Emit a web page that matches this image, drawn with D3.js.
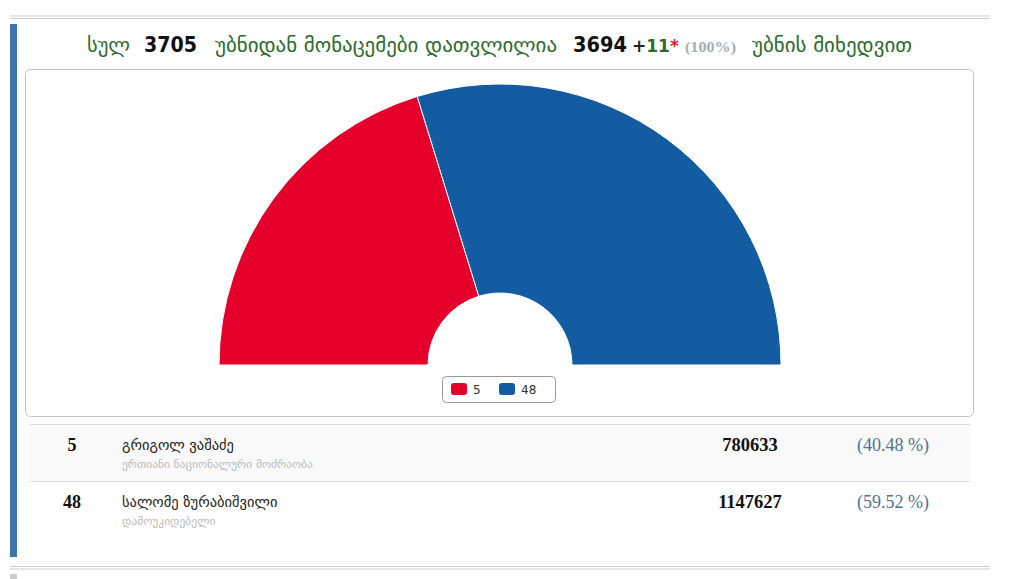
<!DOCTYPE html>
<html><head><meta charset="utf-8">
<script src="https://cdn.jsdelivr.net/npm/d3@7"></script>
<style>
html,body{margin:0;padding:0;background:#fff;}
svg{display:block;}
</style></head>
<body>
<svg id="c" width="1019" height="579"></svg>
<script>
// ---- data ----
const candidateNumbers = ["5", "48"];
const candidateNames = ["გრიგოლ ვაშაძე", "სალომე ზურაბიშვილი"];
const candidateParties = ["ერთიანი ნაციონალური მოძრაობა", "დამოუკიდებელი"];
const votes = [780633, 1147627];
const percents = ["40.48", "59.52"];
const colors = ["#e4002b", "#135ca2"];
const totalPrecincts = "3705";
const countedPrecincts = "3694";
const extraPrecincts = "11";
const countedShare = "(100%)";
const titleParts = ["სულ", "უბნიდან მონაცემები დათვლილია", "უბნის მიხედვით"];

const svg = d3.select("#c");
const green = "#2b6b2e";
const geo = "'DejaVu Sans', sans-serif";
const serif = "'Liberation Serif', 'DejaVu Serif', serif";

// frame lines
svg.append("rect").attr("x",10).attr("y",15.5).attr("width",980).attr("height",1).attr("fill","#ccc");
svg.append("rect").attr("x",10).attr("y",18).attr("width",980).attr("height",1).attr("fill","#ccc");
svg.append("rect").attr("x",10).attr("y",566).attr("width",980).attr("height",1).attr("fill","#ccc");
svg.append("rect").attr("x",10).attr("y",568.5).attr("width",980).attr("height",1).attr("fill","#ccc");
svg.append("rect").attr("x",10).attr("y",24).attr("width",7).attr("height",533).attr("fill","#3a77a8");
svg.append("rect").attr("x",10).attr("y",574).attr("width",7).attr("height",5).attr("fill","#ccc");

// title
const ty = 52;
const t = svg.append("g");
function seg(x, txt, opts, x1){
  const e = t.append("text").attr("x",x).attr("y",ty).text(txt)
    .attr("font-family",opts.ff||geo).attr("font-size",opts.fs||20)
    .attr("font-weight",opts.fw||"normal").attr("fill",opts.c||green);
  if (x1) e.attr("textLength", x1-x).attr("lengthAdjust","spacingAndGlyphs");
  return e;
}
seg(87, titleParts[0], {}, 130);
seg(144, totalPrecincts, {fw:"bold", c:"#111", fs:21}, 197);
seg(215, titleParts[1], {}, 557);
seg(573, countedPrecincts, {fw:"bold", c:"#111", fs:21}, 627);
const plus = t.append("text").attr("x",632).attr("y",ty).attr("font-family",geo)
  .attr("font-weight","bold").attr("font-size",17);
plus.append("tspan").attr("fill","#222").text("+");
plus.append("tspan").attr("fill",green).text(extraPrecincts);
plus.append("tspan").attr("fill","#e0202b").text("*");
seg(685, countedShare, {fw:"bold", c:"#a6adb6", fs:14, ff:serif}, 736);
seg(752, titleParts[2], {}, 912);

// chart box
svg.append("rect").attr("x",25.5).attr("y",69.5).attr("width",948).attr("height",347)
  .attr("rx",5).attr("fill","#fff").attr("stroke","#c4c4c4");

// semi donut
const cx = 500, cy = 365;
const pie = d3.pie().value(d=>d).sort(null).startAngle(-Math.PI/2).endAngle(Math.PI/2);
const arc = d3.arc().innerRadius(72).outerRadius(281);
svg.append("g").attr("transform",`translate(${cx},${cy})`)
  .selectAll("path").data(pie(votes)).join("path")
  .attr("d",arc).attr("fill",(d,i)=>colors[i]).attr("stroke","#fff").attr("stroke-width",1);

// legend
const lg = svg.append("g");
lg.append("rect").attr("x",442.5).attr("y",376.5).attr("width",113).attr("height",26).attr("rx",4)
  .attr("fill","#fff").attr("stroke","#999");
const legX = d3.scalePoint().domain(candidateNumbers).range([451,499]);
candidateNumbers.forEach((n,i)=>{
  lg.append("rect").attr("x",legX(n)).attr("y",383).attr("width",16).attr("height",12).attr("rx",3).attr("fill",colors[i]);
  lg.append("text").attr("x",legX(n)+22).attr("y",394).text(n)
    .attr("font-family","'DejaVu Sans', sans-serif").attr("font-size",12).attr("fill","#333");
});

// table
const rowY = d3.scaleBand().domain(candidateNumbers).range([424,538]);
svg.append("rect").attr("x",30).attr("y",424).attr("width",940).attr("height",1).attr("fill","#ddd");
candidateNumbers.forEach((n,i)=>{
  const y0 = rowY(n), h = rowY.bandwidth();
  if(i%2===0) svg.append("rect").attr("x",30).attr("y",y0+1).attr("width",940).attr("height",h-1).attr("fill","#f9f9f9");
  if(i<candidateNumbers.length-1) svg.append("rect").attr("x",30).attr("y",y0+h).attr("width",940).attr("height",1).attr("fill","#ddd");
  svg.append("text").attr("x",72).attr("y",y0+27).attr("text-anchor","middle").text(n)
    .attr("font-family",serif).attr("font-weight","bold").attr("font-size",18).attr("fill","#111");
  svg.append("text").attr("x",122).attr("y",y0+26).text(candidateNames[i])
    .attr("font-family",geo).attr("font-size",14.5).attr("fill","#222");
  svg.append("text").attr("x",122).attr("y",y0+44).text(candidateParties[i])
    .attr("font-family",geo).attr("font-size",11.5).attr("fill","#bbb");
  svg.append("text").attr("x",750).attr("y",y0+27).attr("text-anchor","middle").text(votes[i])
    .attr("font-family",serif).attr("font-weight","bold").attr("font-size",18.5).attr("fill","#111");
  svg.append("text").attr("x",929).attr("y",y0+27).attr("text-anchor","end").text(`(${percents[i]} %)`)
    .attr("font-family",serif).attr("font-size",18).attr("fill","#4f7397");
});
</script>
</body></html>
